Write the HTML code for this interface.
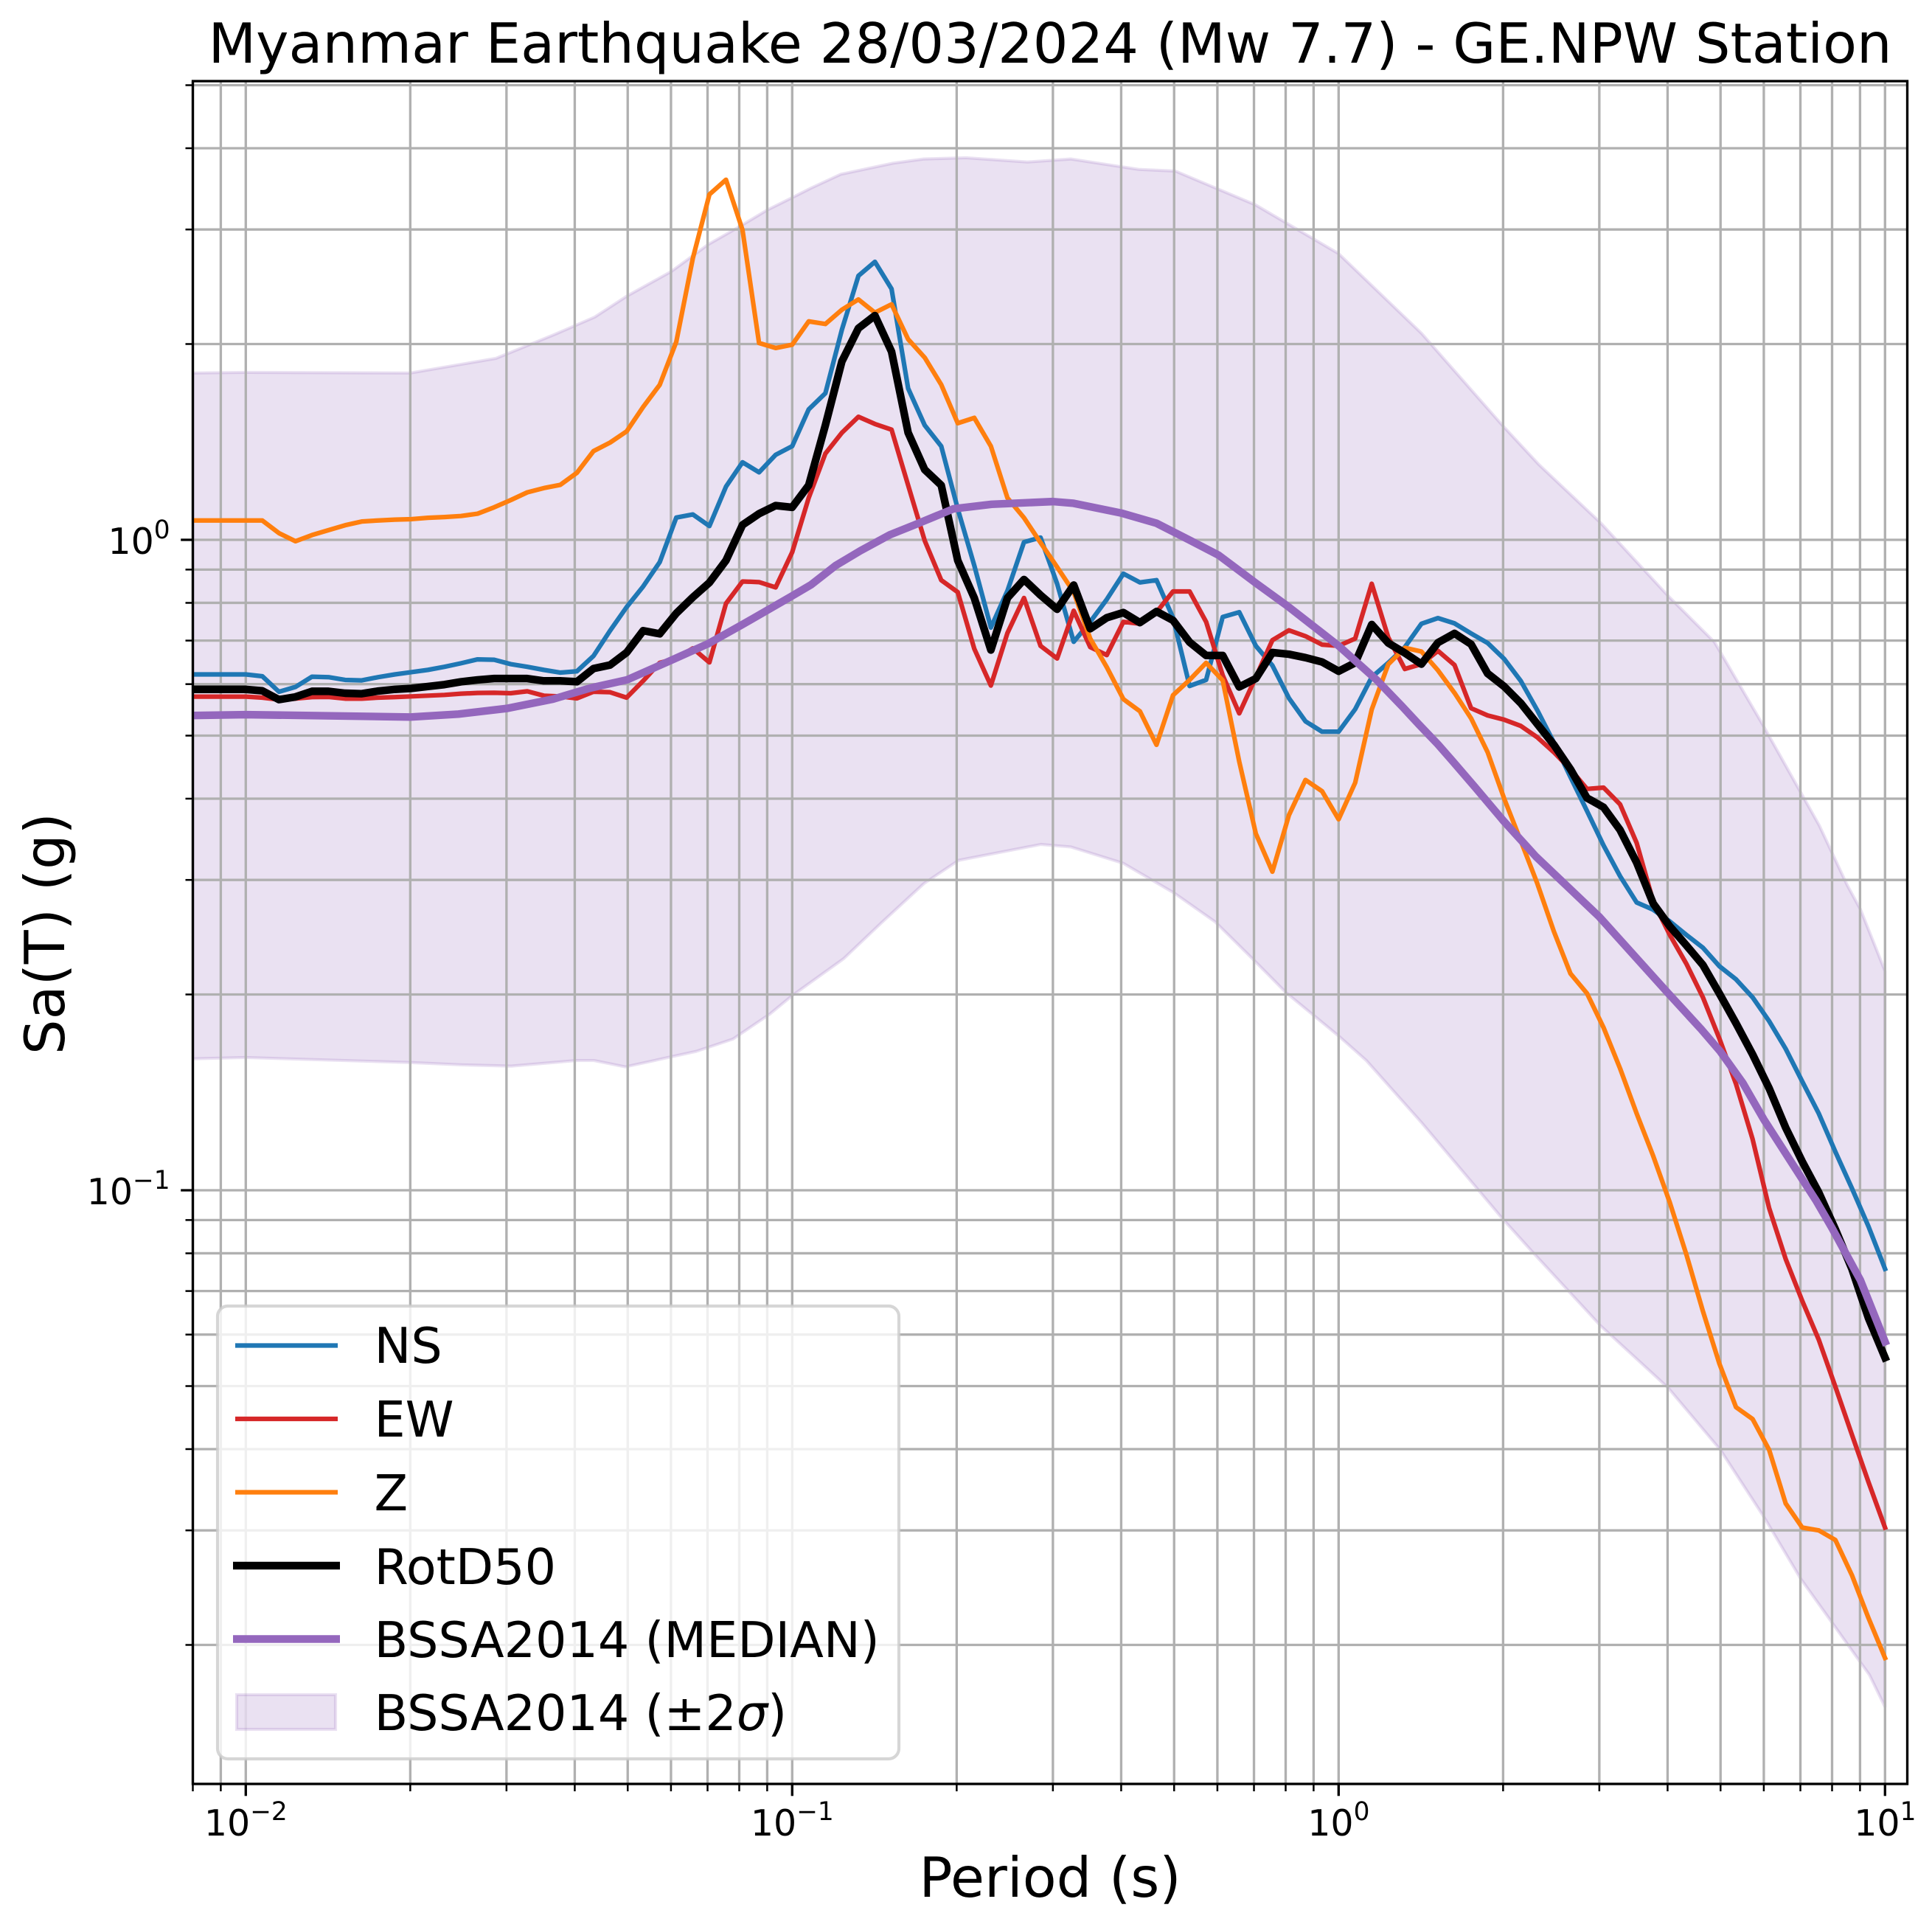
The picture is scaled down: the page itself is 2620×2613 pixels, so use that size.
<!DOCTYPE html>
<html lang="en">
<head>
<meta charset="utf-8">
<title>Myanmar Earthquake Response Spectra</title>
<style>
html,body{margin:0;padding:0;background:#fff;}
svg{display:block;}
text{font-family:"DejaVu Sans","Liberation Sans",sans-serif;fill:#000;}
</style>
</head>
<body>
<svg id="chart" xmlns="http://www.w3.org/2000/svg" width="2620" height="2613" viewBox="0 0 2620 2613">
  <rect x="0" y="0" width="2620" height="2613" fill="#ffffff"/>
  <defs>
    <clipPath id="plot-clip"><rect x="261.5" y="110" width="2325" height="2309"/></clipPath>
  </defs>
  <g id="band-layer" clip-path="url(#plot-clip)"></g>
  <g id="grid-layer"></g>
  <g id="line-layer" clip-path="url(#plot-clip)"></g>
  <rect x="261.5" y="110" width="2325" height="2309" fill="none" stroke="#000" stroke-width="3.33"/>
  <g id="tick-layer"></g>
  <text x="1424" y="85" font-size="75" text-anchor="middle">Myanmar Earthquake 28/03/2024 (Mw 7.7) - GE.NPW Station</text>
  <text x="1424" y="2572" font-size="75" text-anchor="middle">Period (s)</text>
  <text x="87" y="1266" font-size="75" text-anchor="middle" transform="rotate(-90 87 1266)">Sa(T) (g)</text>

  <g>
    <rect x="295" y="1771" width="924" height="614" rx="14" ry="14" fill="#ffffff" fill-opacity="0.8" stroke="#cccccc" stroke-opacity="0.8" stroke-width="4.17"/>
    <g>
      <line x1="319" x2="458" y1="1824.5" y2="1824.5" stroke="#1f77b4" stroke-width="6.25"/>
      <text x="507.5" y="1848" font-size="66.7">NS</text>
    </g>
    <g>
      <line x1="319" x2="458" y1="1924" y2="1924" stroke="#d62728" stroke-width="6.25"/>
      <text x="507.5" y="1948" font-size="66.7">EW</text>
    </g>
    <g>
      <line x1="319" x2="458" y1="2023.5" y2="2023.5" stroke="#ff7f0e" stroke-width="6.25"/>
      <text x="507.5" y="2048" font-size="66.7">Z</text>
    </g>
    <g>
      <line x1="316" x2="461" y1="2123" y2="2123" stroke="#000000" stroke-width="10.4"/>
      <text x="507.5" y="2148" font-size="66.7">RotD50</text>
    </g>
    <g>
      <line x1="316" x2="461" y1="2222.5" y2="2222.5" stroke="#9467bd" stroke-width="10.4"/>
      <text x="507.5" y="2247" font-size="66.7">BSSA2014 (MEDIAN)</text>
    </g>
    <g>
      <rect x="321" y="2298" width="134" height="47" fill="#9467bd" fill-opacity="0.2" stroke="#9467bd" stroke-opacity="0.2" stroke-width="4.17"/>
      <text x="507.5" y="2346" font-size="66.7">BSSA2014 (±2<tspan font-style="italic">σ</tspan>)</text>
    </g>
  </g>
</svg>
<script>
const periods = [0.008,0.01,0.01072,0.0115,0.01233,0.01322,0.01417,0.0152,0.0163,0.01748,0.01874,0.02009,0.02154,0.0231,0.02477,0.02656,0.02848,0.03054,0.03275,0.03511,0.03765,0.04037,0.04329,0.04642,0.04977,0.05337,0.05722,0.06136,0.06579,0.07055,0.07565,0.08111,0.08697,0.09326,0.1,0.1072,0.115,0.1233,0.1322,0.1417,0.152,0.163,0.1748,0.1874,0.2009,0.2154,0.231,0.2477,0.2656,0.2848,0.3054,0.3275,0.3511,0.3765,0.4037,0.4329,0.4642,0.4977,0.5337,0.5722,0.6136,0.6579,0.7055,0.7565,0.8111,0.8697,0.9326,1,1.0723,1.1498,1.2328,1.3219,1.4175,1.5199,1.6298,1.7475,1.8738,2.0092,2.1544,2.3101,2.4771,2.6561,2.848,3.0539,3.2745,3.5112,3.7649,4.037,4.3288,4.6416,4.977,5.3367,5.7224,6.1359,6.5793,7.0548,7.5646,8.1113,8.6975,9.326,10];

const nsValues = [0.621,0.621,0.617,0.584,0.594,0.616,0.615,0.609,0.608,0.615,0.621,0.626,0.631,0.638,0.646,0.655,0.654,0.644,0.638,0.631,0.625,0.628,0.663,0.725,0.788,0.848,0.924,1.082,1.094,1.05,1.207,1.316,1.27,1.351,1.393,1.587,1.68,2.104,2.546,2.676,2.431,1.709,1.5,1.393,1.116,0.913,0.733,0.835,0.992,1.008,0.856,0.697,0.748,0.81,0.887,0.86,0.867,0.759,0.596,0.609,0.761,0.774,0.687,0.641,0.571,0.526,0.507,0.507,0.549,0.615,0.647,0.684,0.743,0.758,0.744,0.718,0.694,0.656,0.607,0.547,0.488,0.432,0.383,0.339,0.304,0.277,0.27,0.259,0.247,0.236,0.221,0.211,0.198,0.182,0.165,0.147,0.1312,0.1146,0.1007,0.088,0.0757];

const ewValues = [0.574,0.574,0.572,0.568,0.57,0.573,0.5735,0.57,0.57,0.572,0.573,0.5745,0.576,0.5775,0.58,0.5815,0.582,0.581,0.585,0.576,0.5745,0.5705,0.584,0.583,0.572,0.607,0.647,0.657,0.681,0.648,0.798,0.863,0.861,0.845,0.957,1.16,1.357,1.461,1.546,1.507,1.477,1.213,0.997,0.867,0.831,0.68,0.597,0.719,0.814,0.687,0.657,0.778,0.684,0.665,0.748,0.743,0.774,0.833,0.833,0.748,0.619,0.541,0.615,0.701,0.726,0.711,0.69,0.687,0.705,0.856,0.708,0.633,0.644,0.675,0.642,0.551,0.537,0.529,0.5175,0.497,0.4715,0.444,0.414,0.416,0.392,0.342,0.278,0.247,0.223,0.198,0.171,0.1457,0.1199,0.0939,0.0784,0.0676,0.0589,0.0499,0.0421,0.0356,0.0303];

const zValues = [1.071,1.071,1.071,1.024,0.995,1.017,1.035,1.053,1.067,1.071,1.074,1.076,1.081,1.084,1.088,1.097,1.122,1.151,1.183,1.201,1.215,1.268,1.369,1.411,1.468,1.601,1.731,2.016,2.709,3.396,3.578,2.995,2.007,1.972,1.995,2.167,2.147,2.258,2.342,2.235,2.302,2.034,1.906,1.732,1.511,1.54,1.393,1.16,1.081,0.99,0.908,0.831,0.705,0.637,0.569,0.545,0.484,0.577,0.609,0.647,0.608,0.456,0.3535,0.3089,0.3773,0.4274,0.4107,0.3718,0.4232,0.5485,0.6437,0.6822,0.6735,0.63,0.5816,0.5316,0.4715,0.4,0.3447,0.2962,0.25,0.2154,0.2008,0.1779,0.1539,0.1312,0.1129,0.0958,0.0797,0.0652,0.0541,0.0464,0.0445,0.0399,0.033,0.0303,0.03,0.029,0.0256,0.022,0.0191];

const rotD50Values = [0.589,0.589,0.586,0.568,0.5735,0.585,0.585,0.581,0.58,0.5855,0.589,0.591,0.595,0.599,0.605,0.609,0.612,0.612,0.612,0.607,0.607,0.605,0.634,0.642,0.671,0.725,0.717,0.771,0.816,0.8595,0.9295,1.054,1.097,1.129,1.122,1.213,1.5,1.881,2.115,2.212,1.947,1.461,1.282,1.213,0.9295,0.814,0.677,0.814,0.869,0.822,0.782,0.852,0.73,0.759,0.773,0.746,0.776,0.752,0.696,0.664,0.664,0.594,0.612,0.671,0.667,0.659,0.649,0.628,0.647,0.741,0.694,0.67,0.644,0.695,0.718,0.691,0.623,0.595,0.561,0.521,0.484,0.444,0.401,0.388,0.358,0.319,0.276,0.2546,0.238,0.222,0.2006,0.1806,0.1618,0.1435,0.1248,0.1107,0.0992,0.0871,0.0757,0.0636,0.0553];

const medianPeriods = [0.008,0.01,0.02,0.0245,0.03,0.0365,0.0427,0.0498,0.0601,0.0701,0.0811,0.1,0.1083,0.1201,0.1333,0.1509,0.1674,0.1973,0.2317,0.3,0.3273,0.4008,0.4636,0.5324,0.6033,0.7029,0.8064,0.927,1,1.174,1.311,1.406,1.519,1.616,1.775,2.002,2.298,2.633,2.998,3.994,4.604,4.996,5.49,5.997,6.988,7.49,7.996,9.01,10];
const medianValues = [0.537,0.5386,0.534,0.5396,0.5504,0.569,0.5917,0.609,0.653,0.692,0.741,0.82,0.853,0.913,0.962,1.018,1.054,1.116,1.134,1.145,1.138,1.099,1.061,1,0.947,0.86,0.791,0.722,0.687,0.609,0.553,0.519,0.485,0.457,0.417,0.37,0.3257,0.2922,0.2634,0.2016,0.177,0.1634,0.1463,0.1286,0.1053,0.0962,0.0875,0.0728,0.0585];

const upperPeriods = [0.008,0.01,0.02,0.0287,0.0367,0.0435,0.0498,0.0601,0.0701,0.0798,0.0899,0.1,0.1083,0.1228,0.1529,0.1742,0.208,0.2696,0.3234,0.4304,0.5027,0.7045,1,1.418,1.991,2.326,3.016,4.008,4.875,5.924,7.577,8.523,9.021,10];
const upperValues = [1.805,1.809,1.805,1.901,2.068,2.2,2.369,2.586,2.843,3.025,3.212,3.358,3.474,3.648,3.793,3.85,3.867,3.809,3.85,3.711,3.689,3.273,2.754,2.077,1.502,1.305,1.062,0.82,0.696,0.526,0.364,0.2947,0.27,0.2172];

const lowerPeriods = [0.008,0.01,0.02,0.0249,0.0306,0.0402,0.0434,0.0495,0.0667,0.0779,0.091,0.1,0.1242,0.1453,0.1742,0.2017,0.2852,0.3234,0.4033,0.4995,0.5945,0.6956,0.8013,1,1.124,1.418,1.991,2.266,3.016,4.008,4.996,5.997,7.005,8.013,9.017,9.36,10];
const lowerValues = [0.1593,0.16,0.1572,0.1559,0.1552,0.1583,0.1583,0.1548,0.1635,0.1708,0.1866,0.1992,0.227,0.2573,0.2962,0.3216,0.3402,0.3372,0.3183,0.2866,0.2586,0.227,0.2013,0.1727,0.1583,0.1271,0.0906,0.0803,0.0619,0.0497,0.0399,0.0315,0.0253,0.0216,0.0188,0.018,0.01606];

const xMajorTicks = [0.01,0.1,1,10];
const xMajorExponents = ['−2','−1','0','1'];
const xMinorTicks = [0.008,0.009,0.02,0.03,0.04,0.05,0.06,0.07,0.08,0.09,0.2,0.3,0.4,0.5,0.6,0.7,0.8,0.9,2,3,4,5,6,7,8,9];
const yMajorTicks = [1,0.1];
const yMajorExponents = ['0','−1'];
const yMinorTicks = [5,4,3,2,0.9,0.8,0.7,0.6,0.5,0.4,0.3,0.2,0.09,0.08,0.07,0.06,0.05,0.04,0.03,0.02];

const NS = 'http://www.w3.org/2000/svg';
const AXIS_LEFT = 261.5, AXIS_RIGHT = 2586.5, AXIS_TOP = 110, AXIS_BOTTOM = 2419;
function xScale(t){ return 333.3 + 741 * (Math.log10(t) + 2); }
function yScale(v){ return 732 - 882 * Math.log10(v); }
function shape(tag, attrs){
  const e = document.createElementNS(NS, tag);
  for (const k in attrs) e.setAttribute(k, attrs[k]);
  return e;
}
function pointsOf(ts, vs){
  return ts.map(function(t, i){ return xScale(t).toFixed(2) + ',' + yScale(vs[i]).toFixed(2); });
}

const bandLayer = document.getElementById('band-layer');
const gridLayer = document.getElementById('grid-layer');
const lineLayer = document.getElementById('line-layer');
const tickLayer = document.getElementById('tick-layer');

/* +/- 2 sigma band */
const upperPts = pointsOf(upperPeriods, upperValues);
const lowerPts = pointsOf(lowerPeriods, lowerValues).reverse();
const band = shape('path', {
  d: 'M' + upperPts.concat(lowerPts).join('L') + 'Z',
  fill: '#9467bd', 'fill-opacity': 0.2,
  stroke: '#9467bd', 'stroke-opacity': 0.2, 'stroke-width': 4.17, 'stroke-linejoin': 'round'
});


bandLayer.appendChild(band);

/* grid */
xMajorTicks.concat(xMinorTicks).forEach(function(t){
  const x = xScale(t);
  if (x < AXIS_LEFT - 1 || x > AXIS_RIGHT + 1) return;
  const g = shape('line', {x1: x, x2: x, y1: AXIS_TOP, y2: AXIS_BOTTOM, stroke: '#b0b0b0', 'stroke-width': 3.33});
  
  
  gridLayer.appendChild(g);
});
yMajorTicks.concat(yMinorTicks).forEach(function(v){
  const y = yScale(v);
  if (y < AXIS_TOP - 1 || y > AXIS_BOTTOM + 1) return;
  const g = shape('line', {x1: AXIS_LEFT, x2: AXIS_RIGHT, y1: y, y2: y, stroke: '#b0b0b0', 'stroke-width': 3.33});
  
  
  gridLayer.appendChild(g);
});

/* series */
function drawSeries(ts, vs, color, width, name){
  const p = shape('polyline', {
    points: pointsOf(ts, vs).join(' '),
    fill: 'none', stroke: color, 'stroke-width': width,
    'stroke-linejoin': 'round', 'stroke-linecap': 'square'
  });
  
  
  lineLayer.appendChild(p);
}
drawSeries(periods, nsValues, '#1f77b4', 6.25, 'line-ns');
drawSeries(periods, ewValues, '#d62728', 6.25, 'line-ew');
drawSeries(periods, zValues, '#ff7f0e', 6.25, 'line-z');
drawSeries(periods, rotD50Values, '#000000', 10.4, 'line-rotd50');
drawSeries(medianPeriods, medianValues, '#9467bd', 10.4, 'line-bssa-median');

/* ticks */
xMajorTicks.forEach(function(t, i){
  const x = xScale(t);
  const m = shape('line', {x1: x, x2: x, y1: AXIS_BOTTOM, y2: AXIS_BOTTOM + 16.3, stroke: '#000', 'stroke-width': 3.33});
  
  
  tickLayer.appendChild(m);
  const label = shape('text', {x: x, y: 2489, 'font-size': 49, 'text-anchor': 'middle'});
  
  
  label.appendChild(document.createTextNode('10'));
  const sup = shape('tspan', {dy: -21, 'font-size': 34.3});
  sup.textContent = xMajorExponents[i];
  label.appendChild(sup);
  tickLayer.appendChild(label);
});
xMinorTicks.forEach(function(t){
  const x = xScale(t);
  if (x < AXIS_LEFT - 1 || x > AXIS_RIGHT + 1) return;
  const m = shape('line', {x1: x, x2: x, y1: AXIS_BOTTOM, y2: AXIS_BOTTOM + 10, stroke: '#000', 'stroke-width': 2.5});
  
  
  tickLayer.appendChild(m);
});
yMajorTicks.forEach(function(v, i){
  const y = yScale(v);
  const m = shape('line', {x1: AXIS_LEFT - 16.3, x2: AXIS_LEFT, y1: y, y2: y, stroke: '#000', 'stroke-width': 3.33});
  
  
  tickLayer.appendChild(m);
  const label = shape('text', {x: 230.6, y: y + 19, 'font-size': 49, 'text-anchor': 'end'});
  
  
  label.appendChild(document.createTextNode('10'));
  const sup = shape('tspan', {dy: -21, 'font-size': 34.3});
  sup.textContent = yMajorExponents[i];
  label.appendChild(sup);
  tickLayer.appendChild(label);
});
yMinorTicks.forEach(function(v){
  const y = yScale(v);
  if (y < AXIS_TOP - 1 || y > AXIS_BOTTOM + 1) return;
  const m = shape('line', {x1: AXIS_LEFT - 10, x2: AXIS_LEFT, y1: y, y2: y, stroke: '#000', 'stroke-width': 2.5});
  
  
  tickLayer.appendChild(m);
});
</script>
</body>
</html>
